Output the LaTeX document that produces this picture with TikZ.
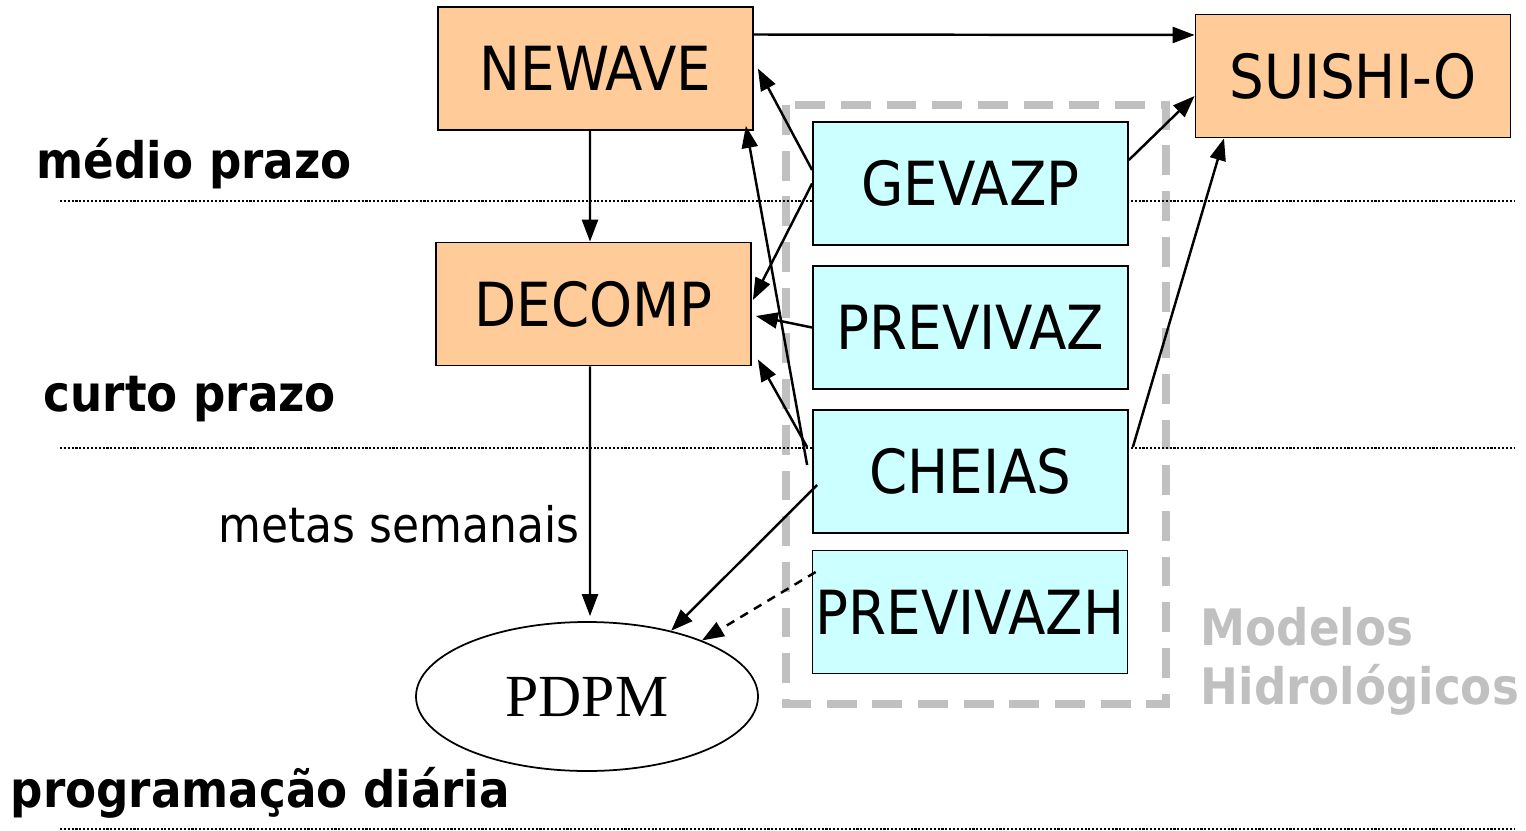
\documentclass[tikz,border=0pt]{standalone}
\usepackage{fontspec}
\setmainfont{DejaVu Sans Condensed}
\newfontfamily\serifpdpm{Liberation Serif}
\usetikzlibrary{arrows.meta,shapes.geometric}
\definecolor{caixalaranja}{HTML}{FFCC99}
\definecolor{caixaciano}{HTML}{CCFFFF}
\definecolor{cinzamodelo}{HTML}{C0C0C0}

\begin{document}
\begin{tikzpicture}[
  modelo/.style={rectangle, draw, line width=0.5pt, minimum width=3.15cm, minimum height=1.23cm, inner sep=0pt, font=\fontsize{17.3}{20}\selectfont},
  planej/.style={modelo, fill=caixalaranja},
  hidro/.style={modelo, fill=caixaciano},
  horizonte/.style={font=\bfseries\fontsize{14.3}{17}\selectfont, inner sep=0pt, anchor=base west},
  separador/.style={line width=0.7pt, dash pattern=on 0.6pt off 0.5pt},
  >={Triangle[length=2.2mm,width=1.6mm]},
  fluxo/.style={draw, ->, line width=0.7pt}
]
\useasboundingbox (0,0) rectangle (15.26,-8.31);

\draw[cinzamodelo, line width=2.3pt, dash pattern=on 8.5pt off 4.5pt] (7.86,-1.05) rectangle (11.66,-7.04);
\draw[separador] (0.60,-2.01) -- (15.15,-2.01);
\draw[separador] (0.60,-4.48) -- (15.15,-4.48);
\draw[separador] (0.60,-8.29) -- (15.15,-8.29);

\node[planej] (newave) at (5.955,-0.685) {NEWAVE};
\node[planej] (suishi) at (13.53,-0.76) {SUISHI-O};
\node[planej] (decomp) at (5.935,-3.04) {DECOMP};
\node[hidro] (gevazp) at (9.705,-1.835) {GEVAZP};
\node[hidro] (previvaz) at (9.705,-3.275) {PREVIVAZ};
\node[hidro] (cheias) at (9.705,-4.715) {CHEIAS};
\node[hidro] (previvazh) at (9.70,-6.12) {PREVIVAZH};
\node[ellipse, draw, line width=0.5pt, minimum width=3.42cm, minimum height=1.49cm, inner sep=0pt, font=\serifpdpm\fontsize{17}{20}\selectfont] (pdpm) at (5.87,-6.965) {PDPM};

\node[horizonte] (medio) at (0.36,-1.78) {médio prazo};
\node[horizonte] (curto) at (0.43,-4.11) {curto prazo};
\node[horizonte] (diaria) at (0.10,-8.07) {programação diária};
\node[font=\fontsize{13.9}{17}\selectfont, inner sep=0pt, anchor=base east] (metas) at (5.80,-5.42) {metas semanais};
\node[horizonte, text=cinzamodelo] (modelos) at (12.0,-6.45) {Modelos};
\node[horizonte, text=cinzamodelo] (hidrologicos) at (12.0,-7.04) {Hidrológicos};

\draw[fluxo] ([yshift=3.4mm]newave.east) -- ([yshift=4.1mm]suishi.west);
\draw[fluxo] ([xshift=-0.55mm]newave.south) -- ([xshift=-0.35mm]decomp.north);
\draw[fluxo] ([xshift=-0.35mm]decomp.south) -- ([xshift=0.3mm,yshift=0.5mm]pdpm.north);
\draw[fluxo] ([yshift=1.35mm]gevazp.west) -- ([xshift=0.4mm]newave.east);
\draw[fluxo] (gevazp.west) -- ([xshift=0.1mm,yshift=0.4mm]decomp.east);
\draw[fluxo] (previvaz.west) -- ([xshift=0.4mm,yshift=-1.2mm]decomp.east);
\draw[fluxo] ([xshift=-0.5mm,yshift=0.65mm]cheias.west) -- ([xshift=-0.8mm,yshift=0.5mm]newave.south east);
\draw[fluxo] ([xshift=-0.5mm,yshift=2.45mm]cheias.west) -- ([xshift=0.6mm,yshift=0.7mm]decomp.south east);
\draw[fluxo] ([xshift=0.5mm,yshift=-1.35mm]cheias.west) -- (pdpm.38);
\draw[fluxo, dash pattern=on 2.5pt off 2pt] ([xshift=0.4mm,yshift=4mm]previvazh.west) -- (pdpm.26);
\draw[fluxo] ([yshift=2.35mm]gevazp.east) -- ([yshift=-2mm]suishi.west);
\draw[fluxo] ([xshift=0.4mm,yshift=2.45mm]cheias.east) -- ([xshift=-12.9mm]suishi.south);
\end{tikzpicture}
\end{document}
